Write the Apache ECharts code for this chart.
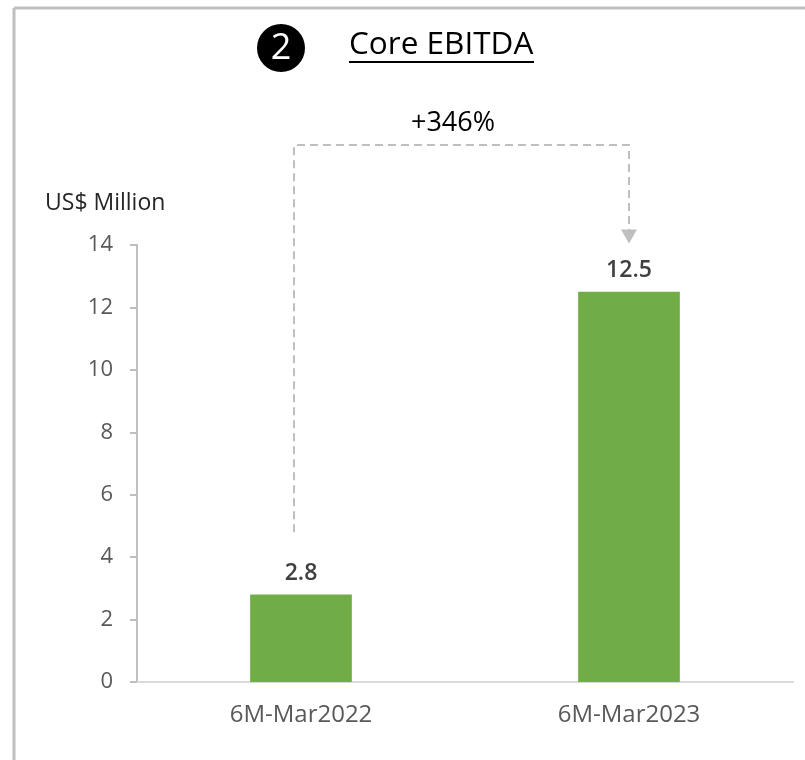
<!DOCTYPE html>
<html>
<head>
<meta charset="utf-8">
<script src="https://cdn.jsdelivr.net/npm/echarts@6/dist/echarts.min.js"></script>
<style>
  html, body { margin: 0; padding: 0; background: #fff; }
  #chart { width: 805px; height: 760px; }
</style>
</head>
<body>
<div id="chart"></div>
<script>
// 数据
const categories = ['6M-Mar2022', '6M-Mar2023'];
const ebitda = [2.8, 12.5];
const growthLabel = '+346%';
const unitLabel = 'US$ Million';

const FONT = '"Open Sans", "Noto Sans", sans-serif';
const chart = echarts.init(document.getElementById('chart'));

chart.setOption({
    animation: false,
    backgroundColor: '#fff',
    grid: { left: 137, right: 12, top: 245, bottom: 78 },
    xAxis: {
        type: 'category',
        data: categories,
        axisLine: { lineStyle: { color: '#d9d9d9', width: 2 } },
        axisTick: { show: false },
        axisLabel: { color: '#595959', fontSize: 24, fontFamily: FONT, margin: 21 }
    },
    yAxis: {
        type: 'value',
        min: 0,
        max: 14,
        interval: 2,
        splitLine: { show: false },
        axisLine: { show: true, lineStyle: { color: '#bfbfbf', width: 2 } },
        axisTick: { show: true, length: 7, lineStyle: { color: '#bfbfbf', width: 2 } },
        axisLabel: { color: '#595959', fontSize: 22, fontFamily: FONT, margin: 24 }
    },
    series: [{
        type: 'bar',
        data: ebitda,
        barWidth: '31%',
        itemStyle: { color: '#70ad47' },
        label: {
            show: true,
            position: 'top',
            distance: 10,
            color: '#404040',
            fontSize: 23,
            fontWeight: 600,
            fontFamily: FONT
        }
    }]
});

// 标注: 增长箭头（位置由坐标轴换算）
const x1 = chart.convertToPixel({ xAxisIndex: 0 }, categories[0]) - 7;
const x2 = chart.convertToPixel({ xAxisIndex: 0 }, categories[1]);
const yStart = chart.convertToPixel({ yAxisIndex: 0 }, 4.8);
const yTop = chart.convertToPixel({ yAxisIndex: 0 }, 17.2);
const yTip = chart.convertToPixel({ yAxisIndex: 0 }, 14.05);
const dash = { stroke: '#bfbfbf', lineWidth: 2, lineDash: [8, 5] };

chart.setOption({
    graphic: [
        // 边框
        { type: 'line', shape: { x1: 14, y1: 8, x2: 805, y2: 8 }, style: { stroke: '#bfbfbf', lineWidth: 3 } },
        { type: 'line', shape: { x1: 14, y1: 8, x2: 14, y2: 760 }, style: { stroke: '#bfbfbf', lineWidth: 3 } },
        // 标题
        { type: 'circle', shape: { cx: 281, cy: 48, r: 24 }, style: { fill: '#000' } },
        { type: 'text', x: 281, y: 49, style: { text: '2', fill: '#fff', fontSize: 36, fontFamily: FONT, align: 'center', verticalAlign: 'middle' } },
        { type: 'text', x: 349, y: 45, style: { text: 'Core EBITDA', fill: '#000', fontSize: 31.5, fontFamily: FONT, align: 'left', verticalAlign: 'middle' } },
        { type: 'line', shape: { x1: 349, y1: 62, x2: 534, y2: 62 }, style: { stroke: '#000', lineWidth: 2 } },
        { type: 'text', x: 45, y: 203, style: { text: unitLabel, fill: '#262626', fontSize: 23, fontFamily: FONT, align: 'left', verticalAlign: 'middle' } },
        // 增长标注
        { type: 'text', x: 453, y: 123, style: { text: growthLabel, fill: '#000', fontSize: 27, fontFamily: FONT, align: 'center', verticalAlign: 'middle' } },
        { type: 'polyline', shape: { points: [[x1, yStart], [x1, yTop], [x2, yTop], [x2, yTip - 10]] }, style: Object.assign({ fill: null }, dash) },
        { type: 'polygon', shape: { points: [[x2 - 8, yTip - 14], [x2 + 8, yTip - 14], [x2, yTip]] }, style: { fill: '#bfbfbf' } }
    ]
});
</script>
</body>
</html>
